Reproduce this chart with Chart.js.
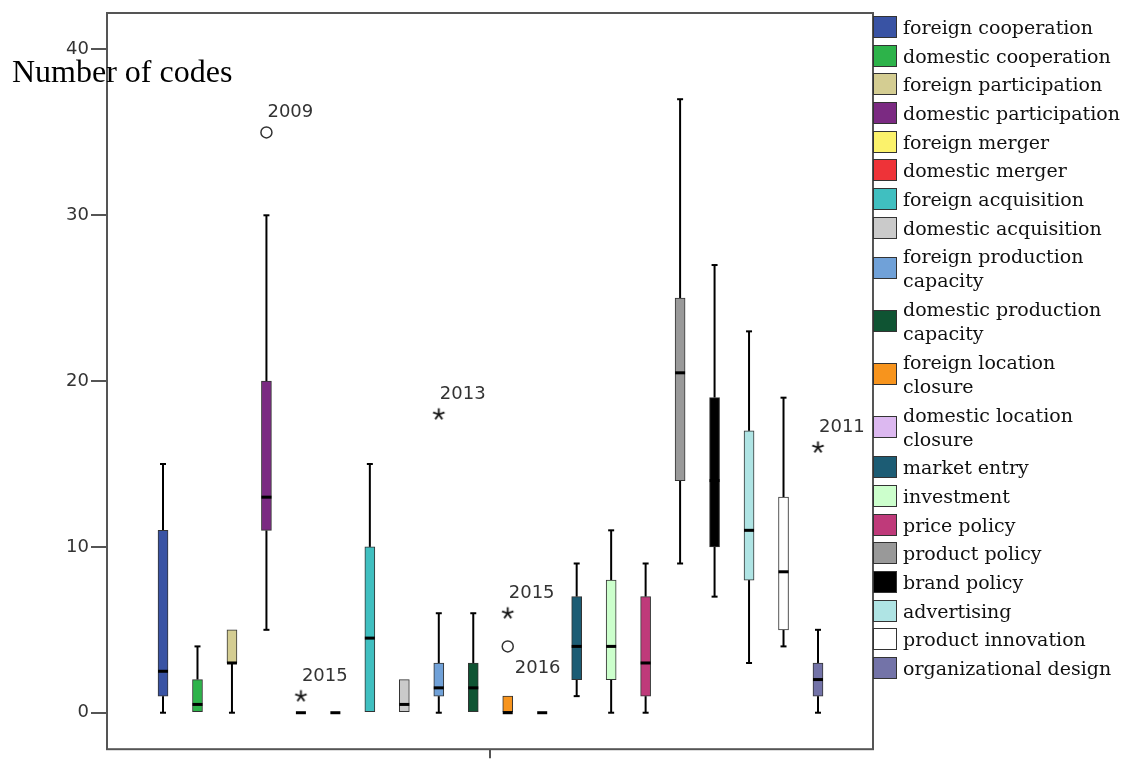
<!DOCTYPE html>
<html>
<head>
<meta charset="utf-8">
<title>Number of codes</title>
<script src="https://cdn.jsdelivr.net/npm/chart.js@4.4.1/dist/chart.umd.min.js"></script>
<style>
    html, body { margin: 0; padding: 0; background: #fff; }
    #wrap { position: relative; width: 1129px; height: 762px; overflow: hidden; }
    #chart { position: absolute; left: 0; top: 0; }
    #legend {
        position: absolute; left: 873px; top: 12.6px;
        font-family: 'DejaVu Serif', serif; font-size: 19px; color: #111;
    }
    .item { display: flex; align-items: center; padding: 2.35px 0; }
    .swatch { width: 22px; height: 20px; border: 1px solid #333; flex: none; }
    .lbl { margin-left: 6px; line-height: 24px; white-space: pre; }
</style>
</head>
<body>
<div id="wrap">
    <canvas id="chart" width="1129" height="762"></canvas>
    <div id="legend"></div>
</div>
<script>
// categories (legend order = box order)
const categories = [
    'foreign cooperation', 'domestic cooperation', 'foreign participation',
    'domestic participation', 'foreign merger', 'domestic merger',
    'foreign acquisition', 'domestic acquisition', 'foreign production\ncapacity',
    'domestic production\ncapacity', 'foreign location\nclosure', 'domestic location\nclosure',
    'market entry', 'investment', 'price policy', 'product policy',
    'brand policy', 'advertising', 'product innovation', 'organizational design'
];

// five-number summaries
const whiskerLow  = [0, 0, 0, 5, 0, 0, 0, 0, 0, 0, 0, 0, 1, 0, 0, 9, 7, 3, 4, 0];
const q1          = [1, 0, 3, 11, 0, 0, 0, 0, 1, 0, 0, 0, 2, 2, 1, 14, 10, 8, 5, 1];
const median      = [2.5, 0.5, 3, 13, 0, 0, 4.5, 0.5, 1.5, 1.5, 0, 0, 4, 4, 3, 20.5, 14, 11, 8.5, 2];
const q3          = [11, 2, 5, 20, 0, 0, 10, 2, 3, 3, 1, 0, 7, 8, 7, 25, 19, 17, 13, 3];
const whiskerHigh = [15, 4, 5, 30, 0, 0, 15, 2, 6, 6, 1, 0, 9, 11, 9, 37, 27, 23, 19, 5];

const boxColors = [
    '#3953a4', '#2db34a', '#d4cd92', '#7b2a82', '#fbf26b', '#ee3338',
    '#40bfc0', '#cacaca', '#70a1d8', '#0f5433', '#f7941d', '#dcb8f0',
    '#1c5c74', '#ccffcc', '#bf3a7a', '#999999', '#000000', '#afe4e4',
    '#ffffff', '#7373a8'
];

// outliers: category index, value, marker, case label
const outlierCategory = [3, 4, 8, 10, 10, 19];
const outlierValue    = [35, 1, 18, 6, 4, 16];
const outlierMarker   = ['circle', 'star', 'star', 'star', 'circle', 'star'];
const outlierLabel    = ['2009', '2015', '2013', '2015', '2016', '2011'];
const outlierLabelSide = ['above', 'above', 'above', 'above', 'below', 'above'];

const yTicks = [0, 10, 20, 30, 40];
const yTitle = 'Number of codes';

// legend
const legendEl = document.getElementById('legend');
categories.forEach((name, i) => {
    const item = document.createElement('div');
    item.className = 'item';
    const sw = document.createElement('div');
    sw.className = 'swatch';
    sw.style.background = boxColors[i];
    const lbl = document.createElement('div');
    lbl.className = 'lbl';
    lbl.textContent = name;
    item.appendChild(sw);
    item.appendChild(lbl);
    legendEl.appendChild(item);
});

// asterisk marker like the SPSS extreme-value symbol
function makeStar() {
    const c = document.createElement('canvas');
    c.width = 15; c.height = 15;
    const g = c.getContext('2d');
    g.strokeStyle = '#111';
    g.lineWidth = 1.8;
    for (let k = 0; k < 5; k++) {
        const a = -Math.PI / 2 + k * 2 * Math.PI / 5;
        g.beginPath();
        g.moveTo(7.5, 7.5);
        g.lineTo(7.5 + 6 * Math.cos(a), 7.5 + 6 * Math.sin(a));
        g.stroke();
    }
    return c;
}
const starImg = makeStar();

const boxPlotPlugin = {
    id: 'boxPlot',
    beforeDatasetsDraw(chart) {
        const { ctx, scales: { x, y } } = chart;
        ctx.save();
        ctx.strokeStyle = '#000';
        ctx.lineWidth = 2;
        categories.forEach((c, i) => {
            const px = x.getPixelForValue(i);
            const parts = [[whiskerLow[i], q1[i]], [q3[i], whiskerHigh[i]]];
            parts.forEach(([a, b]) => {
                if (a === b) return;
                ctx.beginPath();
                ctx.moveTo(px, y.getPixelForValue(a));
                ctx.lineTo(px, y.getPixelForValue(b));
                ctx.stroke();
            });
            // whisker caps
            if (whiskerLow[i] < q1[i]) {
                const py = y.getPixelForValue(whiskerLow[i]);
                ctx.beginPath(); ctx.moveTo(px - 3, py); ctx.lineTo(px + 3, py); ctx.stroke();
            }
            if (whiskerHigh[i] > q3[i]) {
                const py = y.getPixelForValue(whiskerHigh[i]);
                ctx.beginPath(); ctx.moveTo(px - 3, py); ctx.lineTo(px + 3, py); ctx.stroke();
            }
        });
        ctx.restore();
    },
    afterDatasetsDraw(chart) {
        const { ctx, chartArea, scales: { x, y } } = chart;
        ctx.save();
        // medians
        ctx.fillStyle = '#000';
        categories.forEach((c, i) => {
            const px = x.getPixelForValue(i);
            const py = y.getPixelForValue(median[i]);
            ctx.fillRect(px - 5, py - 1.5, 10, 3);
        });
        // case labels
        ctx.fillStyle = '#333';
        ctx.font = '18px "DejaVu Sans"';
        ctx.textAlign = 'left';
        ctx.textBaseline = 'alphabetic';
        outlierLabel.forEach((t, k) => {
            const px = x.getPixelForValue(outlierCategory[k]);
            const py = y.getPixelForValue(outlierValue[k]);
            if (outlierLabelSide[k] === 'below') ctx.fillText(t, px + 7, py + 27);
            else ctx.fillText(t, px + 1, py - 15);
        });
        // frame
        ctx.strokeStyle = '#555';
        ctx.lineWidth = 2;
        ctx.strokeRect(chartArea.left, chartArea.top, chartArea.right - chartArea.left, chartArea.bottom - chartArea.top);
        ctx.restore();
    },
    afterDraw(chart) {
        const { ctx } = chart;
        ctx.save();
        ctx.fillStyle = '#000';
        ctx.font = '32px "Liberation Serif"';
        ctx.textAlign = 'left';
        ctx.textBaseline = 'alphabetic';
        ctx.fillText(yTitle, 12, 82);
        ctx.restore();
    }
};

const boxData = categories.map((c, i) => ({ x: i, y: [q1[i], q3[i]] }));
const circleData = [], starData = [];
outlierCategory.forEach((ci, k) => {
    const pt = { x: ci, y: outlierValue[k] };
    if (outlierMarker[k] === 'circle') circleData.push(pt); else starData.push(pt);
});

new Chart(document.getElementById('chart'), {
    type: 'bar',
    data: {
        datasets: [
            {
                type: 'bar',
                data: boxData,
                backgroundColor: boxColors,
                borderColor: '#333',
                borderWidth: 1,
                borderSkipped: false,
                barThickness: 10
            },
            {
                type: 'scatter',
                data: circleData,
                pointStyle: 'circle',
                pointRadius: 5.5,
                borderColor: '#333',
                borderWidth: 1.5,
                backgroundColor: 'rgba(255,255,255,0)'
            },
            {
                type: 'scatter',
                data: starData,
                pointStyle: starImg,
                pointRadius: 7
            }
        ]
    },
    options: {
        responsive: false,
        animation: false,
        layout: { padding: { top: 13, right: 256, left: 0, bottom: 0 } },
        plugins: { legend: { display: false }, tooltip: { enabled: false } },
        scales: {
            x: {
                type: 'linear',
                offset: false,
                min: -1.625,
                max: 20.596,
                border: { display: false },
                grid: { drawOnChartArea: false, tickLength: 9, color: '#555', lineWidth: 2, offset: false },
                ticks: { display: false },
                afterBuildTicks: s => { s.ticks = [{ value: 9.5 }]; }
            },
            y: {
                min: -2.2,
                max: 42.2,
                border: { display: false },
                grid: { drawOnChartArea: false, tickLength: 16, color: '#555', lineWidth: 2 },
                ticks: {
                    padding: 2,
                    color: '#333',
                    font: { family: 'DejaVu Sans', size: 18 }
                },
                afterBuildTicks: s => { s.ticks = yTicks.map(v => ({ value: v })); },
                afterFit: s => { s.width = 107; }
            }
        }
    },
    plugins: [boxPlotPlugin]
});
</script>
</body>
</html>
